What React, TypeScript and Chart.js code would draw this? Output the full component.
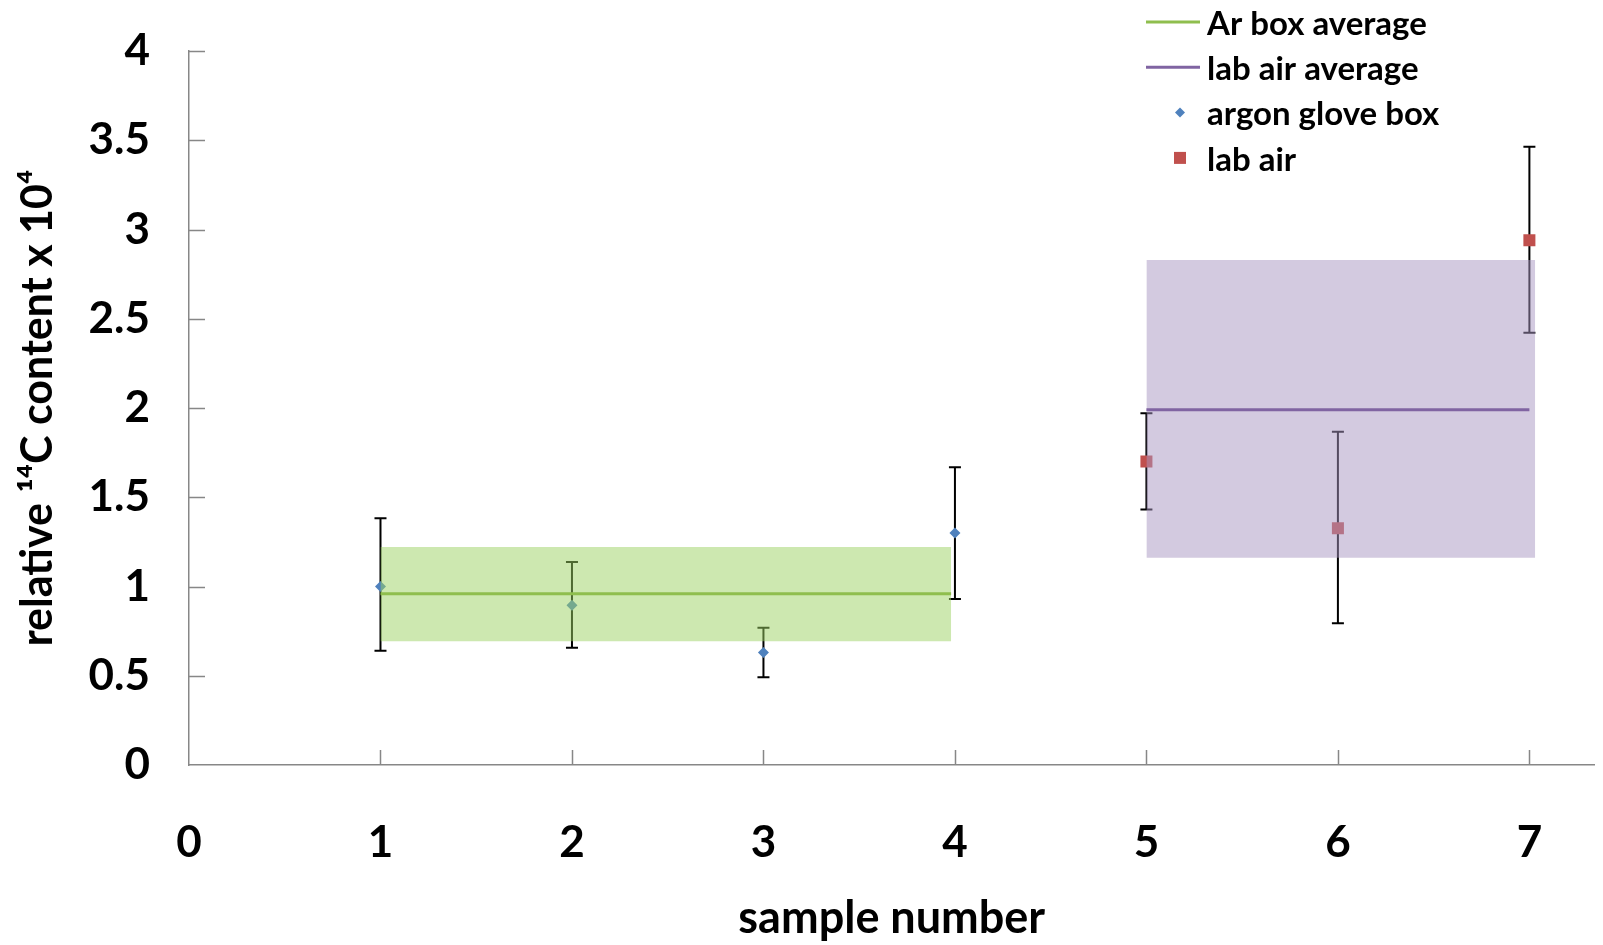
import React, { useEffect, useRef } from "react";
import { Chart, registerables } from "chart.js";

Chart.register(...registerables);

// ---- data ----
const xTickValues = [0, 1, 2, 3, 4, 5, 6, 7];
const yTickValues = [0, 0.5, 1, 1.5, 2, 2.5, 3, 3.5, 4];

const argonX = [1, 2, 3, 4];
const argonY = [1.0, 0.895, 0.63, 1.3];
const argonLow = [0.64, 0.657, 0.491, 0.93];
const argonHigh = [1.382, 1.137, 0.769, 1.668];

const labX = [5, 6, 7];
const labY = [1.7, 1.326, 2.94];
const labLow = [1.432, 0.794, 2.422];
const labHigh = [1.97, 1.867, 3.464];

const arAverage = 0.96;
const arBandLow = 0.693;
const arBandHigh = 1.221;
const arSpan = [1, 3.98];

const labAverage = 1.99;
const labBandLow = 1.161;
const labBandHigh = 2.829;
const labLineSpan = [5, 7];
const labBandSpan = [5, 7.03];

const xMin = 0;
const xMax = 7.34;
const yMin = 0;
const yMax = 4;

const FONT = "Lato, 'Open Sans', sans-serif";
const AXIS_GRAY = "#878787";

const flat = (span: number[], y: number) => span.map((x) => ({ x, y }));
const pts = (xs: number[], ys: number[]) => xs.map((x, i) => ({ x, y: ys[i] }));

const errorBarPlugin = {
  id: "errorBars",
  beforeDatasetDraw(chart: any, args: any) {
    const ds = chart.data.datasets[args.index];
    if (!ds.errLow) return;
    const xs = chart.scales.x;
    const ys = chart.scales.y;
    const ctx = chart.ctx;
    ctx.save();
    ctx.strokeStyle = "#000";
    ctx.lineWidth = 2;
    ds.data.forEach((p: any, i: number) => {
      const px = xs.getPixelForValue(p.x);
      const pLo = ys.getPixelForValue(ds.errLow[i]);
      const pHi = ys.getPixelForValue(ds.errHigh[i]);
      ctx.beginPath();
      ctx.moveTo(px, pLo);
      ctx.lineTo(px, pHi);
      ctx.moveTo(px - 6, pLo);
      ctx.lineTo(px + 6, pLo);
      ctx.moveTo(px - 6, pHi);
      ctx.lineTo(px + 6, pHi);
      ctx.stroke();
    });
    ctx.restore();
  },
};

const innerTicksPlugin = {
  id: "innerTicks",
  beforeDatasetsDraw(chart: any) {
    const { ctx, chartArea } = chart;
    const xs = chart.scales.x;
    const ys = chart.scales.y;
    ctx.save();
    ctx.strokeStyle = AXIS_GRAY;
    ctx.lineWidth = 1.5;
    ctx.beginPath();
    yTickValues.forEach((v) => {
      if (v === yMin) return;
      const py = Math.round(ys.getPixelForValue(v)) + 0.5;
      ctx.moveTo(chartArea.left, py);
      ctx.lineTo(chartArea.left + 16, py);
    });
    xTickValues.forEach((v) => {
      if (v === xMin) return;
      const px = Math.round(xs.getPixelForValue(v)) + 0.5;
      ctx.moveTo(px, chartArea.bottom);
      ctx.lineTo(px, chartArea.bottom - 15);
    });
    ctx.stroke();
    ctx.restore();
  },
};

const legendPlugin = {
  id: "customLegend",
  afterDraw(chart: any) {
    const ctx = chart.ctx;
    const items = chart.data.datasets.filter((d: any) => d.inLegend);
    const x0 = 1146;
    const lineEnd = 1200;
    const textX = 1207;
    const y0 = 22;
    const step = 45.3;
    ctx.save();
    ctx.font = `bold 33px ${FONT}`;
    ctx.textBaseline = "middle";
    ctx.fillStyle = "#000";
    items.forEach((d: any, i: number) => {
      const y = y0 + i * step;
      if (d.legendKind === "line") {
        ctx.strokeStyle = d.borderColor;
        ctx.lineWidth = 3;
        ctx.beginPath();
        ctx.moveTo(x0, y);
        ctx.lineTo(lineEnd, y);
        ctx.stroke();
      } else {
        ctx.fillStyle = d.backgroundColor;
        ctx.beginPath();
        const cx = 1180;
        if (d.pointStyle === "rectRot") {
          const r = 5;
          ctx.moveTo(cx - r, y);
          ctx.lineTo(cx, y - r);
          ctx.lineTo(cx + r, y);
          ctx.lineTo(cx, y + r);
          ctx.closePath();
        } else {
          ctx.rect(cx - 6, y - 6, 12, 12);
        }
        ctx.fill();
      }
      ctx.fillStyle = "#000";
      ctx.fillText(d.label, textX, y + 2);
    });
    ctx.restore();
  },
};

export default function App() {
  const ref = useRef<HTMLCanvasElement | null>(null);

  useEffect(() => {
    document.body.style.margin = "0";
    if (!ref.current) return;
    const chart = new Chart(ref.current, {
      type: "scatter",
      data: {
        datasets: [
          {
            type: "line",
            label: "Ar box average",
            data: flat(arSpan, arAverage),
            borderColor: "#8FBE4E",
            backgroundColor: "#8FBE4E",
            borderWidth: 3,
            pointRadius: 0,
            fill: false,
            order: 1,
            inLegend: true,
            legendKind: "line",
          } as any,
          {
            type: "line",
            label: "lab air average",
            data: flat(labLineSpan, labAverage),
            borderColor: "#8064A2",
            backgroundColor: "#8064A2",
            borderWidth: 3,
            pointRadius: 0,
            fill: false,
            order: 1,
            inLegend: true,
            legendKind: "line",
          } as any,
          {
            type: "scatter",
            label: "argon glove box",
            data: pts(argonX, argonY),
            backgroundColor: "#4F81BD",
            borderColor: "#4F81BD",
            borderWidth: 0,
            pointStyle: "rectRot",
            pointRadius: 5.5,
            order: 6,
            errLow: argonLow,
            errHigh: argonHigh,
            inLegend: true,
            legendKind: "point",
          } as any,
          {
            type: "scatter",
            label: "lab air",
            data: pts(labX, labY),
            backgroundColor: "#C0504D",
            borderColor: "#C0504D",
            borderWidth: 0,
            pointStyle: "rect",
            pointRadius: 8.5,
            order: 6,
            errLow: labLow,
            errHigh: labHigh,
            inLegend: true,
            legendKind: "point",
          } as any,
          {
            type: "line",
            label: "Ar band low",
            data: flat(arSpan, arBandLow),
            borderColor: "transparent",
            borderWidth: 0,
            pointRadius: 0,
            fill: false,
            order: 4,
          } as any,
          {
            type: "line",
            label: "Ar band high",
            data: flat(arSpan, arBandHigh),
            borderColor: "transparent",
            borderWidth: 0,
            pointRadius: 0,
            fill: { target: 4 },
            backgroundColor: "rgba(155, 209, 97, 0.5)",
            order: 3,
          } as any,
          {
            type: "line",
            label: "lab band low",
            data: flat(labBandSpan, labBandLow),
            borderColor: "transparent",
            borderWidth: 0,
            pointRadius: 0,
            fill: false,
            order: 4,
          } as any,
          {
            type: "line",
            label: "lab band high",
            data: flat(labBandSpan, labBandHigh),
            borderColor: "transparent",
            borderWidth: 0,
            pointRadius: 0,
            fill: { target: 6 },
            backgroundColor: "rgba(167, 149, 193, 0.5)",
            order: 3,
          } as any,
        ],
      },
      options: {
        animation: false,
        responsive: false,
        layout: { padding: { top: 51, right: 5, left: 0, bottom: 0 } },
        plugins: {
          legend: { display: false },
          tooltip: { enabled: false },
        },
        scales: {
          x: {
            type: "linear",
            min: xMin,
            max: xMax,
            afterBuildTicks: (scale: any) => {
              scale.ticks = xTickValues.map((v) => ({ value: v }));
            },
            afterFit: (scale: any) => {
              scale.height = 180;
              scale.paddingLeft = 0;
              scale.paddingRight = 0;
            },
            grid: { display: true, drawOnChartArea: false, drawTicks: false },
            border: { display: true, color: AXIS_GRAY, width: 1.5 },
            ticks: {
              padding: 51,
              color: "#000",
              font: { family: FONT, size: 44, weight: "bold" },
              maxRotation: 0,
              callback: (v: any) => String(v),
            },
            title: {
              display: true,
              text: "sample number",
              color: "#000",
              font: { family: FONT, size: 45, weight: "bold" },
              padding: { top: 0, bottom: 0 },
            },
          },
          y: {
            type: "linear",
            min: yMin,
            max: yMax,
            afterBuildTicks: (scale: any) => {
              scale.ticks = yTickValues.map((v) => ({ value: v }));
            },
            afterFit: (scale: any) => {
              scale.width = 189;
              scale.paddingTop = 0;
              scale.paddingBottom = 0;
            },
            grid: { display: true, drawOnChartArea: false, drawTicks: false },
            border: { display: true, color: AXIS_GRAY, width: 1.5 },
            ticks: {
              padding: 39,
              color: "#000",
              font: { family: FONT, size: 44, weight: "bold" },
              callback: (v: any) => String(v),
            },
            title: {
              display: true,
              text: "relative \u00B9\u2074C content x 10\u2074",
              color: "#000",
              font: { family: FONT, size: 43, weight: "bold" },
              padding: { top: 12, bottom: 0 },
            },
          },
        },
      } as any,
      plugins: [errorBarPlugin, innerTicksPlugin, legendPlugin],
    });
    return () => chart.destroy();
  }, []);

  return (
    <canvas
      ref={ref}
      width={1603}
      height={945}
      style={{ display: "block", width: 1603, height: 945 }}
    />
  );
}
